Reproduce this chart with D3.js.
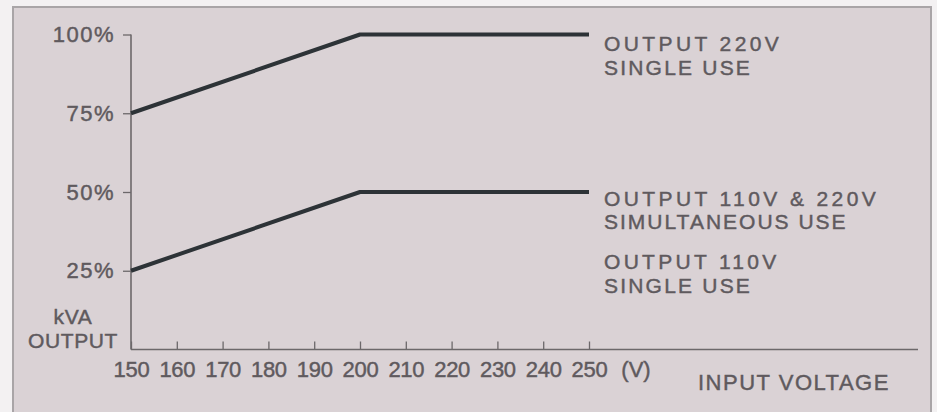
<!DOCTYPE html>
<html>
<head>
<meta charset="utf-8">
<script src="https://cdn.jsdelivr.net/npm/d3@7"></script>
<style>
  html, body { margin: 0; padding: 0; background: #f3f1f2; }
  svg { display: block; }
  text { font-family: "Liberation Sans", Arial, Helvetica, sans-serif; fill: #5f5a5e; stroke: #5f5a5e; stroke-width: 0.45px; }
</style>
</head>
<body>
<svg id="chart" width="937" height="412"></svg>
<script>
// ---- data ----
const voltages = [150, 200, 250];
const single220 = [75, 100, 100];
const combined = [25, 50, 50];
const xTicks = [150, 160, 170, 180, 190, 200, 210, 220, 230, 240, 250];
const yTicks = [25, 50, 75, 100];
const yTickLabels = ["25%", "50%", "75%", "100%"];
const seriesLabels = [
  { lines: ["OUTPUT 220V", "SINGLE USE"], value: 100 },
  { lines: ["OUTPUT 110V & 220V", "SIMULTANEOUS USE"], value: 50 },
  { lines: ["OUTPUT 110V", "SINGLE USE"], value: 25 }
];
const yAxisTitle = ["kVA", "OUTPUT"];
const xAxisTitle = "INPUT VOLTAGE";
const xUnit = "(V)";

// ---- layout ----
const svg = d3.select("#chart");
const x = d3.scaleLinear().domain([150, 250]).range([131, 589]);
const y = d3.scaleLinear().domain([0, 100]).range([349.5, 34.5]);
const plotRight = 918;
const axisColor = "#6c686a";
const fs = 22;
const labelFs = 21;
const leading = 23.6;

// panel
svg.append("rect")
  .attr("x", 13).attr("y", 7)
  .attr("width", 918).attr("height", 430)
  .attr("fill", "#dad2d5")
  .attr("stroke", "#a9a5a7").attr("stroke-width", 2);

// x axis
const gx = svg.append("g").attr("transform", `translate(0,${y(0)})`)
  .call(d3.axisBottom(x).tickValues(xTicks).tickSize(-8).tickPadding(12).tickFormat(d3.format("d")));
gx.select(".domain").remove();
gx.selectAll(".tick line").attr("stroke", axisColor).attr("stroke-width", 1.3);
gx.selectAll(".tick text").attr("font-size", fs).attr("fill", null)
  .attr("letter-spacing", -0.3)
  .style("font-family", "'Liberation Sans', Arial, sans-serif");
svg.append("line")
  .attr("x1", x(150)).attr("x2", plotRight)
  .attr("y1", y(0)).attr("y2", y(0))
  .attr("stroke", axisColor).attr("stroke-width", 1.6);

// y axis
const gy = svg.append("g").attr("transform", `translate(${x(150)},0)`)
  .call(d3.axisLeft(y).tickValues(yTicks).tickSize(8).tickSizeOuter(0).tickPadding(8)
    .tickFormat((d, i) => yTickLabels[i]));
gy.select(".domain").attr("stroke", axisColor).attr("stroke-width", 1.6)
  .attr("d", `M0,${y(100)}V${y(0)}`);
gy.selectAll(".tick line").attr("stroke", axisColor).attr("stroke-width", 1.3);
gy.selectAll(".tick text").attr("font-size", fs).attr("fill", null)
  .attr("letter-spacing", 1.5)
  .style("font-family", "'Liberation Sans', Arial, sans-serif");

// lines
const line = d3.line().x((d, i) => x(voltages[i])).y(d => y(d));
[single220, combined].forEach(s => {
  svg.append("path")
    .datum(s)
    .attr("d", line)
    .attr("fill", "none")
    .attr("stroke", "#2d3337")
    .attr("stroke-width", 4)
    .attr("stroke-linejoin", "round");
});

// series labels
const labelX = 604;
const offsets = [16.5, 13.5, -1.5];
const spacingByLine = [[3.4, 2.2], [3.4, 2.0], [3.3, 2.2]];
seriesLabels.forEach((s, k) => {
  const t = svg.append("text")
    .attr("x", labelX)
    .attr("y", y(s.value) + offsets[k])
    .attr("font-size", labelFs);
  s.lines.forEach((ln, i) => {
    t.append("tspan").attr("x", labelX).attr("dy", i === 0 ? 0 : leading)
      .attr("letter-spacing", spacingByLine[k][i]).text(ln);
  });
});

// y axis title
const yt = svg.append("text").attr("x", 73).attr("y", 324)
  .attr("text-anchor", "middle").attr("font-size", labelFs).attr("letter-spacing", 0.6);
yAxisTitle.forEach((ln, i) => {
  yt.append("tspan").attr("x", 73).attr("dy", i === 0 ? 0 : leading).text(ln);
});

// x unit and title
svg.append("text").attr("x", x(250) + 47).attr("y", 377)
  .attr("text-anchor", "middle").attr("font-size", fs).text(xUnit);
svg.append("text").attr("x", 698).attr("y", 390)
  .attr("font-size", fs).attr("letter-spacing", 1.5).text(xAxisTitle);
</script>
</body>
</html>
